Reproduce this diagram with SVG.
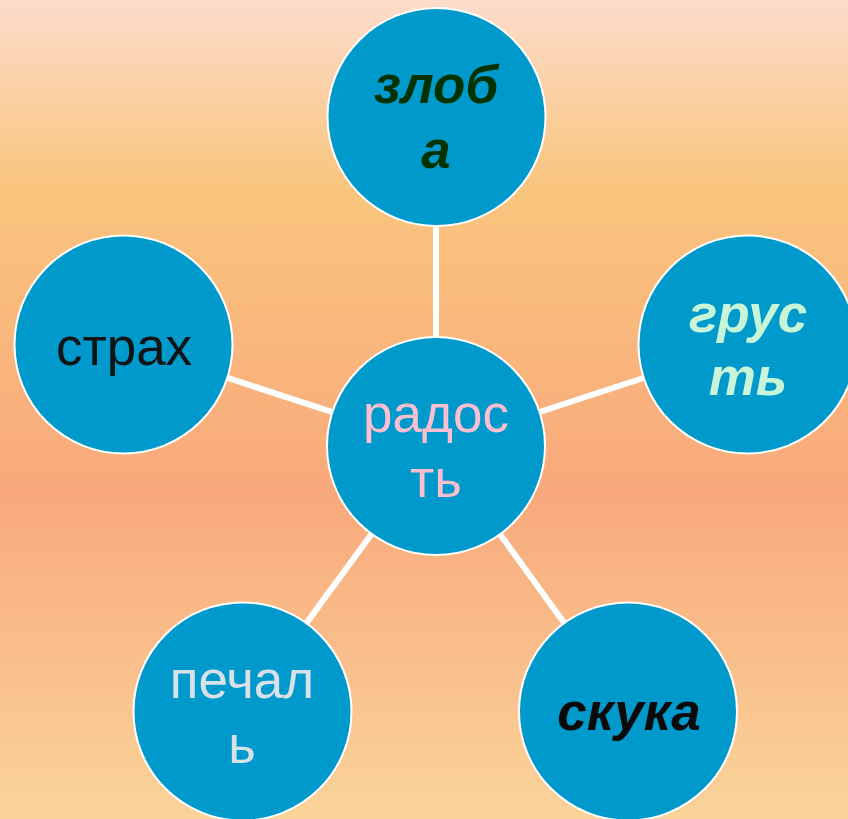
<svg xmlns="http://www.w3.org/2000/svg" width="848" height="819" viewBox="0 0 848 819">
<defs>
<linearGradient id="bg" x1="0" y1="0" x2="0" y2="1">
<stop offset="0" stop-color="#fcdccb"/>
<stop offset="0.23" stop-color="#f9c57d"/>
<stop offset="0.6" stop-color="#f9a97c"/>
<stop offset="1" stop-color="#fad49a"/>
</linearGradient>
<style>
.n{fill:#0099cc;stroke:#ffffff;stroke-width:2}
.t{font-family:"Liberation Sans",Arial,sans-serif;font-size:53px;text-anchor:middle}
.bi{font-weight:bold;font-style:italic}
.c{stroke:#ffffff;stroke-width:6;fill:none}
</style>
</defs>
<rect width="848" height="819" fill="url(#bg)"/>
<g id="connectors">
<line class="c" x1="436" y1="446" x2="436" y2="117"/>
<line class="c" x1="436" y1="446" x2="747" y2="344"/>
<line class="c" x1="436" y1="446" x2="124" y2="344"/>
<line class="c" x1="436" y1="446" x2="242" y2="711"/>
<line class="c" x1="436" y1="446" x2="628" y2="711"/>
</g>
<g id="node-zloba">
<circle class="n" cx="436.5" cy="117" r="109"/>
<text class="t bi" x="436" y="103" fill="#003300">злоб</text>
<text class="t bi" x="436" y="168" fill="#003300">а</text>
</g>
<g id="node-grust">
<circle class="n" cx="747.5" cy="344.5" r="109"/>
<text class="t bi" x="748" y="332" fill="#c8f5d8">грус</text>
<text class="t bi" x="748" y="395" fill="#c8f5d8">ть</text>
</g>
<g id="node-strah">
<circle class="n" cx="123.5" cy="344.5" r="109"/>
<text class="t" x="124" y="365" fill="#0f1414">страх</text>
</g>
<g id="node-pechal">
<circle class="n" cx="242.5" cy="711.5" r="109"/>
<text class="t" x="242" y="698" fill="#d8e0e8">печал</text>
<text class="t" x="242" y="763" fill="#d8e0e8">ь</text>
</g>
<g id="node-skuka">
<circle class="n" cx="628" cy="711.5" r="109"/>
<text class="t bi" x="629" y="730" fill="#0a0a0a">скука</text>
</g>
<g id="node-radost">
<circle class="n" cx="436" cy="446" r="109"/>
<text class="t" x="436" y="432" fill="#fbbfd0">радос</text>
<text class="t" x="436" y="497" fill="#fbbfd0">ть</text>
</g>
</svg>
